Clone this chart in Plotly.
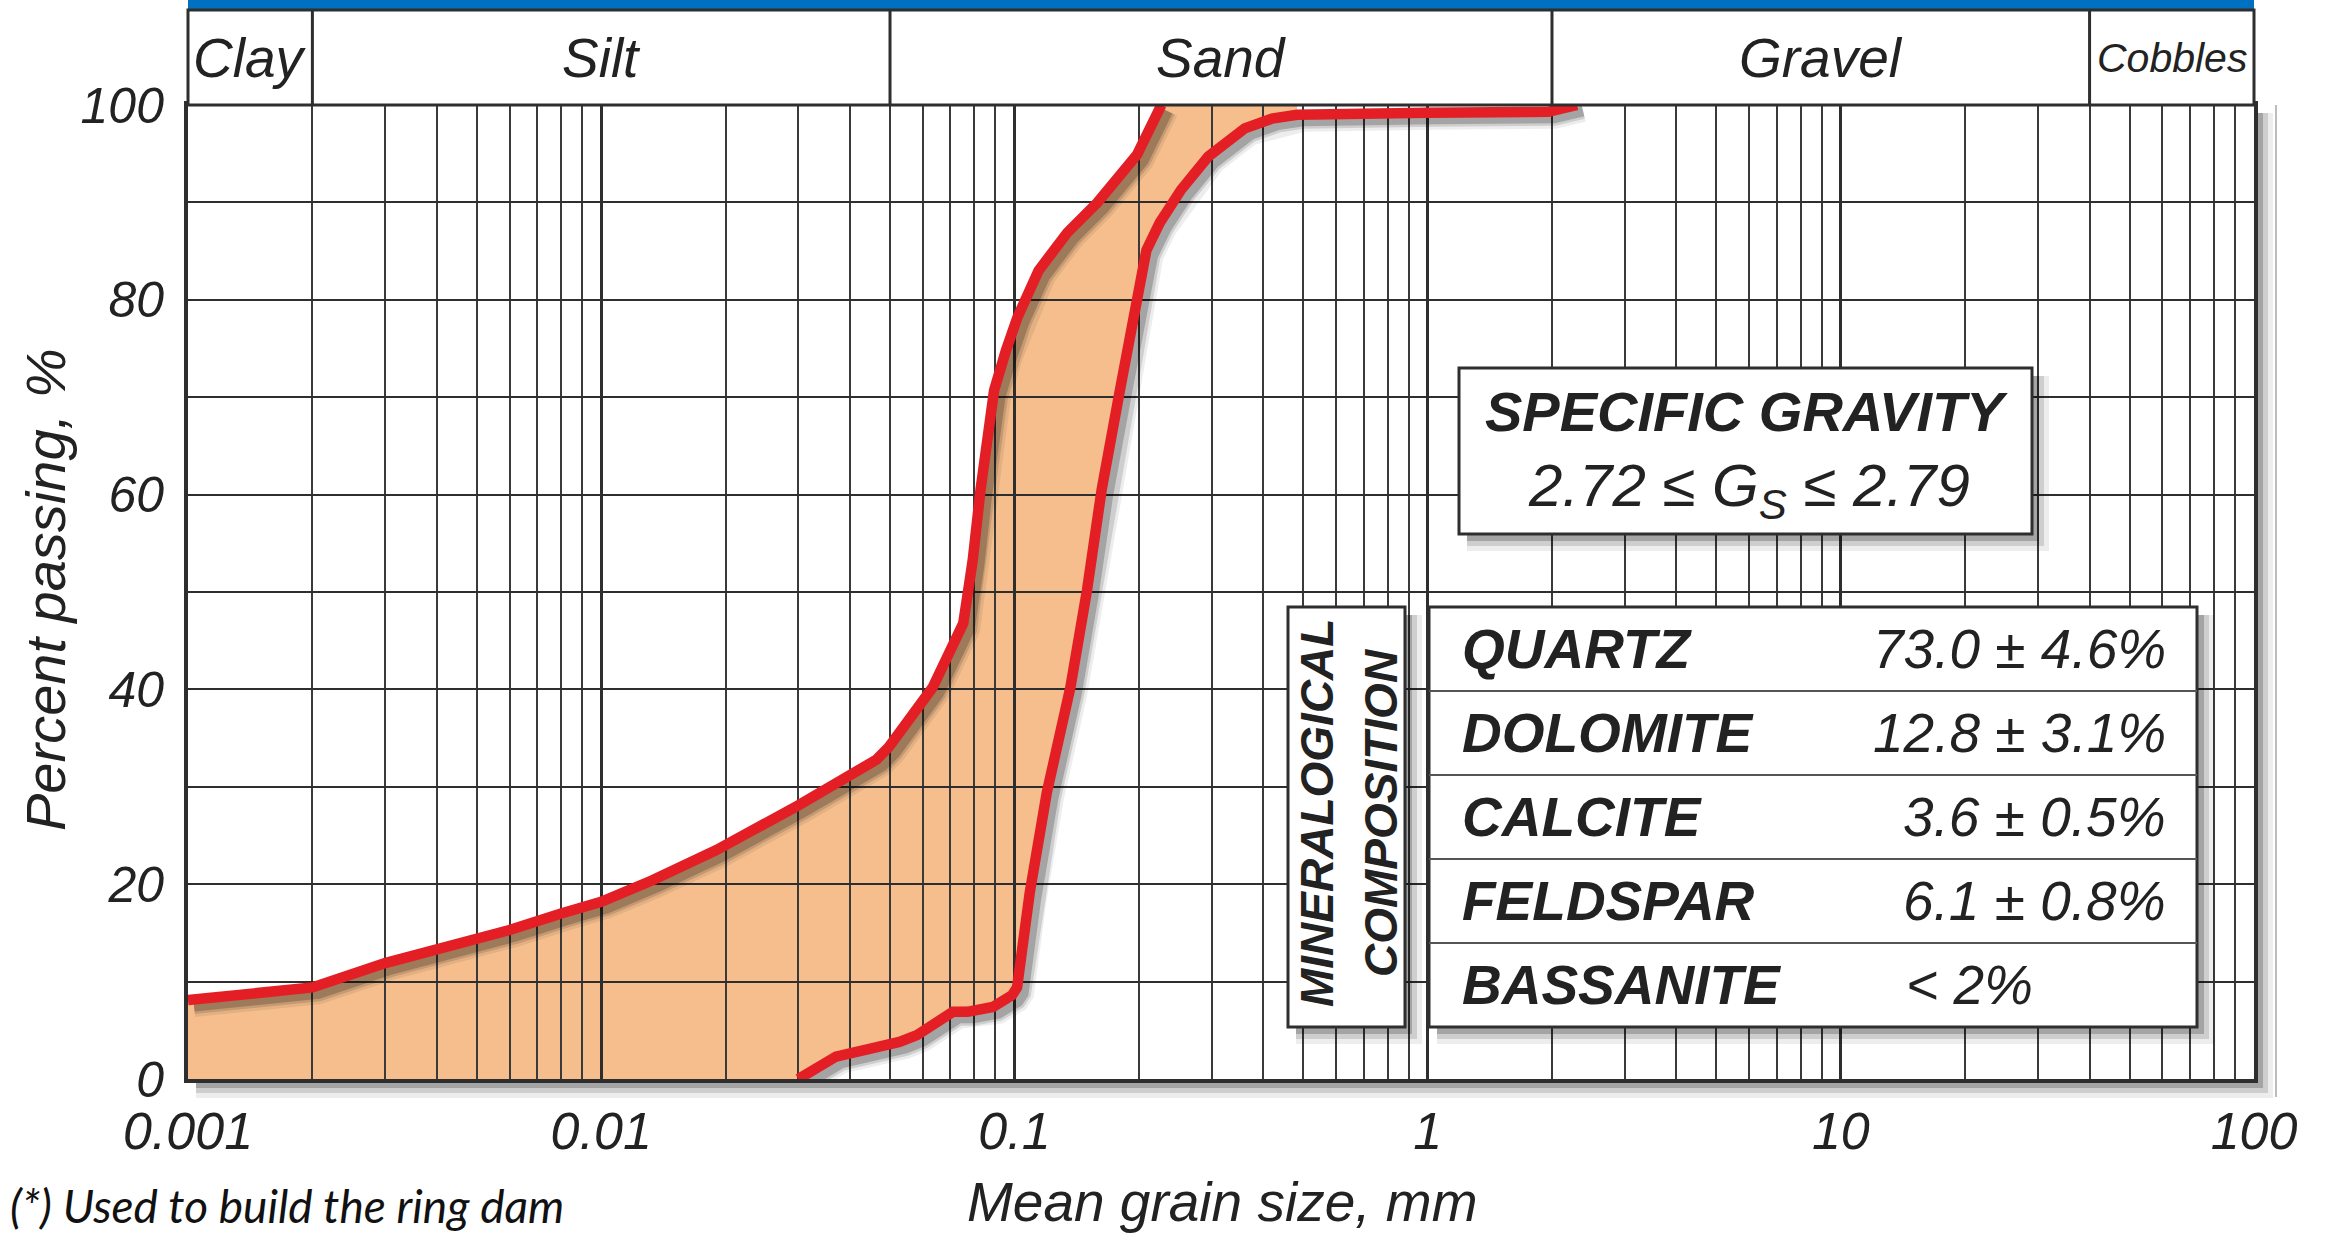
import numpy as np
import plotly.graph_objects as go

# ---------------------------------------------------------------
# Grain-size distribution envelope (mean grain size in mm, % passing)
# ---------------------------------------------------------------
fine_size = [0.001, 0.002, 0.003, 0.004, 0.006, 0.008, 0.010, 0.0133, 0.019,
             0.030, 0.040, 0.0464, 0.0497, 0.0634, 0.0752, 0.0793, 0.0828,
             0.0893, 0.0954, 0.1017, 0.1144, 0.1343, 0.1589, 0.1981, 0.2268]
fine_pass = [8.1, 9.4, 11.9, 13.2, 15.3, 17.0, 18.2, 20.4, 23.5,
             28.1, 31.0, 32.8, 34.1, 40.2, 46.8, 53.3, 60.5,
             70.7, 74.8, 78.2, 83.0, 86.9, 90.0, 94.9, 100.0]

coarse_size = [0.030, 0.037, 0.0527, 0.0581, 0.0710, 0.0770, 0.0887, 0.0987,
               0.1015, 0.1089, 0.1198, 0.1366, 0.1499, 0.1626, 0.180, 0.198,
               0.2087, 0.2247, 0.2532, 0.2945, 0.361, 0.420, 0.483, 1.0,
               1.96, 2.3]
coarse_pass = [0.0, 2.3, 3.8, 4.5, 6.9, 6.9, 7.4, 8.6,
               9.4, 19.1, 29.4, 40.2, 50.2, 60.5, 70.7, 80.3,
               85.1, 87.9, 91.3, 94.7, 97.6, 98.6, 99.0, 99.2,
               99.3, 100.0]

# Soil classes along the size axis
class_names = ["Clay", "Silt", "Sand", "Gravel", "Cobbles"]
class_bounds = [0.001, 0.002, 0.05, 2, 40, 100]

# Axis ticks
x_tick_vals = [0.001, 0.01, 0.1, 1, 10, 100]
x_tick_text = ["0.001", "0.01", "0.1", "1", "10", "100"]
y_tick_vals = [0, 20, 40, 60, 80, 100]

# Mineralogical composition
minerals = ["QUARTZ", "DOLOMITE", "CALCITE", "FELDSPAR", "BASSANITE"]
mineral_values = ["73.0 ± 4.6%", "12.8 ± 3.1%", "3.6 ± 0.5%", "6.1 ± 0.8%", "< 2%"]

gs_low, gs_high = 2.72, 2.79

# ---------------------------------------------------------------
# Page geometry
# ---------------------------------------------------------------
W, H = 2328, 1240
L, R, T, B = 188, 2254, 105, 1079

X_RANGE = [-3, 2]
Y_RANGE = [0, 100]


def px(x):
    return (x - L) / (R - L)


def py(y):
    return (B - y) / (B - T)


ARIAL = "Liberation Sans, Arial, sans-serif"
INK = "#222222"
LINE = "#2e2e2e"
RED = "#E31E24"
SAND = "#F5BE8C"

# shadow offset (pixels) expressed in axis units
SH_PX = 6
sdx = SH_PX * (X_RANGE[1] - X_RANGE[0]) / (R - L)
sdy = SH_PX * (Y_RANGE[1] - Y_RANGE[0]) / (B - T)

fine_size_a = np.array(fine_size)
fine_pass_a = np.array(fine_pass)
coarse_size_a = np.array(coarse_size)
coarse_pass_a = np.array(coarse_pass)

# closed envelope polygon between the two limits
keep = coarse_size_a <= 0.5
poly_x = np.concatenate([fine_size_a, [coarse_size_a[keep][-1]],
                         coarse_size_a[keep][::-1], [fine_size_a[0]]])
poly_y = np.concatenate([fine_pass_a, [Y_RANGE[1]],
                         coarse_pass_a[keep][::-1], [Y_RANGE[0]]])

fig = go.Figure()

# layer 1: envelope fill
fig.add_trace(go.Scatter(x=poly_x, y=poly_y, mode="lines", fill="toself",
                         fillcolor=SAND, line=dict(width=0), hoverinfo="skip",
                         xaxis="x", yaxis="y", showlegend=False))

# layer 2: grid + frame (empty trace to hold the subplot)
fig.add_trace(go.Scatter(x=[], y=[], xaxis="x2", yaxis="y2", showlegend=False))

# layer 3: soft drop shadow of the limit curves
both_x = fine_size + [None] + coarse_size
both_y = fine_pass + [None] + coarse_pass
for w, a in [(22, 0.07), (16, 0.13), (11, 0.2)]:
    fig.add_trace(go.Scatter(x=both_x, y=both_y, mode="lines",
                             line=dict(color=f"rgba(0,0,0,{a})", width=w),
                             hoverinfo="skip", xaxis="x3", yaxis="y3",
                             showlegend=False))

# layer 4: the red limit curves
for xs, ys in [(fine_size, fine_pass), (coarse_size, coarse_pass)]:
    fig.add_trace(go.Scatter(x=xs, y=ys, mode="lines",
                             line=dict(color=RED, width=10.5),
                             xaxis="x4", yaxis="y4", showlegend=False))

hidden_x = dict(type="log", visible=False, domain=[0, 1], fixedrange=True)
hidden_y = dict(visible=False, domain=[0, 1], fixedrange=True)

minor_x = [m * 10.0 ** e for e in range(-3, 2) for m in range(2, 10)]

fig.update_layout(
    width=W, height=H,
    margin=dict(l=L, r=W - R, t=T, b=H - B, pad=0),
    paper_bgcolor="white",
    plot_bgcolor="rgba(0,0,0,0)",
    showlegend=False,
    xaxis=dict(hidden_x, range=X_RANGE, anchor="y"),
    yaxis=dict(hidden_y, range=Y_RANGE, anchor="x"),
    xaxis2=dict(
        type="log", range=X_RANGE, domain=[0, 1], anchor="y2",
        tickmode="array", tickvals=x_tick_vals, ticktext=x_tick_text,
        ticks="", ticklabelstandoff=4,
        tickfont=dict(family=ARIAL, size=52, color=INK, style="italic"),
        showgrid=True, gridcolor=LINE, gridwidth=3,
        minor=dict(tickmode="array", tickvals=minor_x, showgrid=True,
                   gridcolor="#3a3a3a", gridwidth=1.5, ticks=""),
        showline=True, mirror=True, linecolor=LINE, linewidth=4,
        zeroline=False, fixedrange=True,
    ),
    yaxis2=dict(
        range=Y_RANGE, domain=[0, 1], anchor="x2",
        tickmode="array", tickvals=y_tick_vals,
        ticks="", ticklabelstandoff=10,
        tickfont=dict(family=ARIAL, size=50, color=INK, style="italic"),
        showgrid=True, gridcolor=LINE, gridwidth=2,
        minor=dict(dtick=10, showgrid=True, gridcolor=LINE, gridwidth=2, ticks=""),
        showline=True, mirror=True, linecolor=LINE, linewidth=4,
        zeroline=False, fixedrange=True,
    ),
    xaxis3=dict(hidden_x, range=[X_RANGE[0] - sdx, X_RANGE[1] - sdx], anchor="y3"),
    yaxis3=dict(hidden_y, range=[Y_RANGE[0] + sdy, Y_RANGE[1] + sdy], anchor="x3"),
    xaxis4=dict(hidden_x, range=X_RANGE, anchor="y4"),
    yaxis4=dict(hidden_y, range=Y_RANGE, anchor="x4"),
)

shapes = []
annotations = []


def shadow_strips(x0, y0, x1, y1, layer):
    """Soft shadow along the right and bottom edges of a pixel box."""
    for w, a in [(17, 0.07), (12, 0.13), (7, 0.2)]:
        shapes.append(dict(type="rect", xref="paper", yref="paper", layer=layer,
                           x0=px(x1), x1=px(x1 + w), y0=py(y1 + w), y1=py(y0 + 8),
                           fillcolor=f"rgba(0,0,0,{a})", line=dict(width=0)))
        shapes.append(dict(type="rect", xref="paper", yref="paper", layer=layer,
                           x0=px(x0 + 8), x1=px(x1), y0=py(y1 + w), y1=py(y1),
                           fillcolor=f"rgba(0,0,0,{a})", line=dict(width=0)))


# plot frame shadow + faint outer rule
shadow_strips(L, T, R + 2, B + 2, "below")
shapes.append(dict(type="line", xref="paper", yref="paper", layer="below",
                   x0=px(2276), x1=px(2276), y0=py(T), y1=py(1097),
                   line=dict(color="rgba(0,0,0,0.35)", width=1.5)))

# blue banner and class header
shapes.append(dict(type="rect", xref="paper", yref="paper", layer="above",
                   x0=0, x1=1, y0=py(9), y1=py(-2),
                   fillcolor="#0070C0", line=dict(width=0)))
shapes.append(dict(type="rect", xref="paper", yref="paper", layer="above",
                   x0=0, x1=1, y0=1, y1=py(10),
                   fillcolor="white", line=dict(color=LINE, width=3)))
for b in class_bounds[1:-1]:
    shapes.append(dict(type="line", xref="x2", yref="paper", layer="above",
                       x0=b, x1=b, y0=1, y1=py(10),
                       line=dict(color=LINE, width=3)))
for i, name in enumerate(class_names):
    mid = np.sqrt(class_bounds[i] * class_bounds[i + 1])
    annotations.append(dict(
        x=np.log10(mid), y=py(58), xref="x2", yref="paper",
        text=name, showarrow=False, xanchor="center", yanchor="middle",
        font=dict(family=ARIAL, size=41 if name == "Cobbles" else 55,
                  color=INK, style="italic")))

# specific gravity box
SG = (1459, 368, 2032, 534)
shadow_strips(*SG, "above")
shapes.append(dict(type="rect", xref="paper", yref="paper", layer="above",
                   x0=px(SG[0]), x1=px(SG[2]), y0=py(SG[3]), y1=py(SG[1]),
                   fillcolor="white", line=dict(color=LINE, width=3)))
annotations.append(dict(
    x=px(1746), y=py(411), xref="paper", yref="paper", showarrow=False,
    text="<b>SPECIFIC GRAVITY</b>", xanchor="center", yanchor="middle",
    font=dict(family=ARIAL, size=56, color=INK, style="italic")))
annotations.append(dict(
    x=px(1749), y=py(490), xref="paper", yref="paper", showarrow=False,
    text=f"{gs_low:.2f} ≤ G<sub>S</sub> ≤ {gs_high:.2f}",
    xanchor="center", yanchor="middle",
    font=dict(family=ARIAL, size=60, color=INK, style="italic")))

# mineralogical composition: side label box and table
LBL = (1288, 607, 1405, 1027)
TAB = (1429, 607, 2197, 1027)
for box in (LBL, TAB):
    shadow_strips(*box, "above")
    shapes.append(dict(type="rect", xref="paper", yref="paper", layer="above",
                       x0=px(box[0]), x1=px(box[2]), y0=py(box[3]), y1=py(box[1]),
                       fillcolor="white", line=dict(color=LINE, width=3)))

row_h = (TAB[3] - TAB[1]) / len(minerals)
for k in range(1, len(minerals)):
    yy = TAB[1] + k * row_h
    shapes.append(dict(type="line", xref="paper", yref="paper", layer="above",
                       x0=px(TAB[0]), x1=px(TAB[2]), y0=py(yy), y1=py(yy),
                       line=dict(color="#555555", width=2)))

for k, (m, v) in enumerate(zip(minerals, mineral_values)):
    yc = TAB[1] + (k + 0.5) * row_h
    annotations.append(dict(
        x=px(1460), y=py(yc), xref="paper", yref="paper", showarrow=False,
        text=f"<b>{m}</b>", xanchor="left", yanchor="middle",
        font=dict(family=ARIAL, size=55, color=INK, style="italic")))
    if v.startswith("<"):
        annotations.append(dict(
            x=px(1904), y=py(yc), xref="paper", yref="paper", showarrow=False,
            text=v, xanchor="left", yanchor="middle",
            font=dict(family=ARIAL, size=55, color=INK, style="italic")))
    else:
        annotations.append(dict(
            x=px(2168), y=py(yc), xref="paper", yref="paper", showarrow=False,
            text=v, xanchor="right", yanchor="middle",
            font=dict(family=ARIAL, size=55, color=INK, style="italic")))

for word, xc in [("MINERALOGICAL", 1317), ("COMPOSITION", 1381)]:
    annotations.append(dict(
        x=px(xc), y=py(813), xref="paper", yref="paper", showarrow=False,
        text=f"<b>{word}</b>", textangle=-90, xanchor="center", yanchor="middle",
        font=dict(family=ARIAL, size=46, color=INK, style="italic")))

# axis titles and footnote
annotations.append(dict(
    x=px(45), y=py(590), xref="paper", yref="paper", showarrow=False,
    text="Percent passing, %", textangle=-90, xanchor="center", yanchor="middle",
    font=dict(family=ARIAL, size=56, color=INK, style="italic")))
annotations.append(dict(
    x=px(1222), y=py(1202), xref="paper", yref="paper", showarrow=False,
    text="Mean grain size, mm", xanchor="center", yanchor="middle",
    font=dict(family=ARIAL, size=55, color=INK, style="italic")))
annotations.append(dict(
    x=px(8), y=py(1205), xref="paper", yref="paper", showarrow=False,
    text="(*) Used to build the ring dam", xanchor="left", yanchor="middle",
    font=dict(family="Lato, Open Sans, sans-serif", size=46, color="#111111",
              style="italic")))

fig.update_layout(shapes=shapes, annotations=annotations)

fig.write_html("out.html")
